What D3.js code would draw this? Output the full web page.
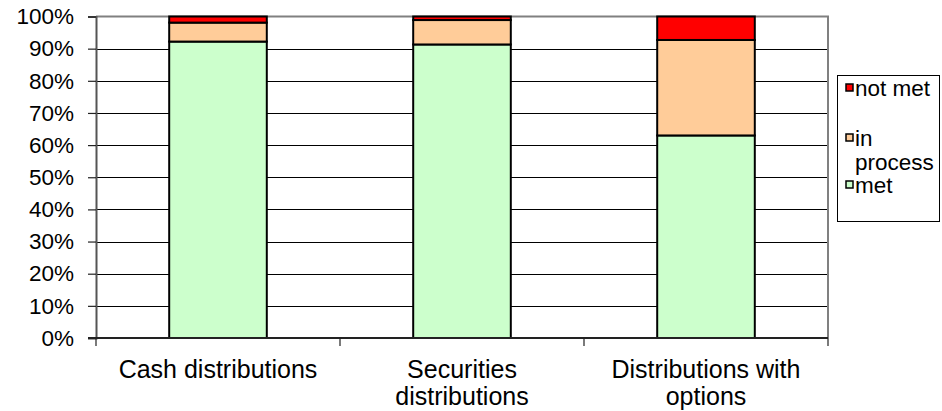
<!DOCTYPE html>
<html>
<head>
<meta charset="utf-8">
<script src="https://cdn.jsdelivr.net/npm/d3@7"></script>
<style>
  html, body { margin: 0; padding: 0; background: #fff; }
  svg { display: block; font-family: "Liberation Sans", Arial, sans-serif; }
</style>
</head>
<body>
<svg id="chart" width="942" height="411"></svg>
<script>
// Share of distributions by status (percent of total)
const categories = [["Cash distributions"], ["Securities", "distributions"], ["Distributions with", "options"]];
const categoryKeys = ["Cash distributions", "Securities distributions", "Distributions with options"];
const met = [92.2, 91.3, 63.0];
const inProcess = [5.9, 7.6, 29.7];
const notMet = [1.9, 1.1, 7.3];
const seriesNames = ["met", "in process", "not met"];
const seriesColors = ["#ccffcc", "#ffcc99", "#ff0000"];
const yTicks = [0, 10, 20, 30, 40, 50, 60, 70, 80, 90, 100];

const svg = d3.select("#chart");
const plot = { left: 96, top: 16.5, right: 828, bottom: 338 };

const x = d3.scaleBand().domain(categoryKeys).range([plot.left, plot.right]).paddingInner(0.6).paddingOuter(0.3);
const xOuter = d3.scaleBand().domain(categoryKeys).range([plot.left, plot.right]);
const y = d3.scaleLinear().domain([0, 100]).range([plot.bottom, plot.top]);

const rows = categoryKeys.map((k, i) => ({ key: k, met: met[i], "in process": inProcess[i], "not met": notMet[i] }));
const stacked = d3.stack().keys(seriesNames)(rows);

// gridlines
svg.append("g").selectAll("line").data(yTicks.filter(t => t > 0 && t < 100)).join("line")
  .attr("x1", plot.left).attr("x2", plot.right)
  .attr("y1", d => Math.round(y(d)) + 0.5).attr("y2", d => Math.round(y(d)) + 0.5)
  .attr("stroke", "#000").attr("stroke-width", 1);

// plot border (top, right)
svg.append("path")
  .attr("d", `M${plot.left},${plot.top}H${plot.right}V${plot.bottom}`)
  .attr("fill", "none").attr("stroke", "#808080").attr("stroke-width", 2);

// bars
svg.append("g").selectAll("g").data(stacked).join("g")
  .attr("fill", (d, i) => seriesColors[i])
  .selectAll("rect").data(d => d).join("rect")
  .attr("x", d => x(d.data.key))
  .attr("width", x.bandwidth())
  .attr("y", d => y(d[1]))
  .attr("height", d => y(d[0]) - y(d[1]))
  .attr("stroke", "#000").attr("stroke-width", 2);

// y axis
const yAxis = d3.axisLeft(y).tickValues(yTicks).tickFormat(d => d + "%").tickSize(8).tickPadding(14);
const gy = svg.append("g").attr("transform", `translate(${plot.left},0)`).call(yAxis);
gy.select(".domain").attr("stroke", "#555").attr("stroke-width", 2);
gy.selectAll(".tick line").attr("stroke", "#222").attr("stroke-width", 1.2);
gy.selectAll("text").attr("font-size", 22.5).attr("fill", "#000").attr("font-family", "Liberation Sans, Arial, sans-serif");

// x axis line and boundary ticks
svg.append("line").attr("x1", plot.left - 8).attr("x2", plot.right)
  .attr("y1", plot.bottom).attr("y2", plot.bottom).attr("stroke", "#222").attr("stroke-width", 2);
const bounds = categoryKeys.map(k => xOuter(k)).concat([plot.right]);
svg.append("g").selectAll("line").data(bounds).join("line")
  .attr("x1", d => d).attr("x2", d => d)
  .attr("y1", plot.bottom).attr("y2", plot.bottom + 8)
  .attr("stroke", "#222").attr("stroke-width", 1.2);

// category labels
const labels = svg.append("g").attr("font-size", 25).attr("text-anchor", "middle").attr("fill", "#000");
categoryKeys.forEach((k, i) => {
  const cx = xOuter(k) + xOuter.bandwidth() / 2;
  const t = labels.append("text").attr("x", cx).attr("y", 378);
  categories[i].forEach((line, j) => {
    t.append("tspan").attr("x", cx).attr("dy", j === 0 ? 0 : 27).text(line);
  });
});

// legend
const legend = svg.append("g");
legend.append("rect").attr("x", 837.5).attr("y", 75.5).attr("width", 102).attr("height", 146)
  .attr("fill", "#fff").attr("stroke", "#000").attr("stroke-width", 1);
const legendItems = [
  { name: "not met", color: seriesColors[2], lines: ["not met"], y: 88 },
  { name: "in process", color: seriesColors[1], lines: ["in", "process"], y: 138 },
  { name: "met", color: seriesColors[0], lines: ["met"], y: 185 }
];
legendItems.forEach(it => {
  legend.append("rect").attr("x", 846).attr("y", it.y - 4).attr("width", 7).attr("height", 7)
    .attr("fill", it.color).attr("stroke", "#000").attr("stroke-width", 1.5);
  const t = legend.append("text").attr("x", 855).attr("y", it.y + 8).attr("font-size", 22.5).attr("fill", "#000");
  it.lines.forEach((line, j) => t.append("tspan").attr("x", 855).attr("dy", j === 0 ? 0 : 24).text(line));
});
</script>
</body>
</html>
